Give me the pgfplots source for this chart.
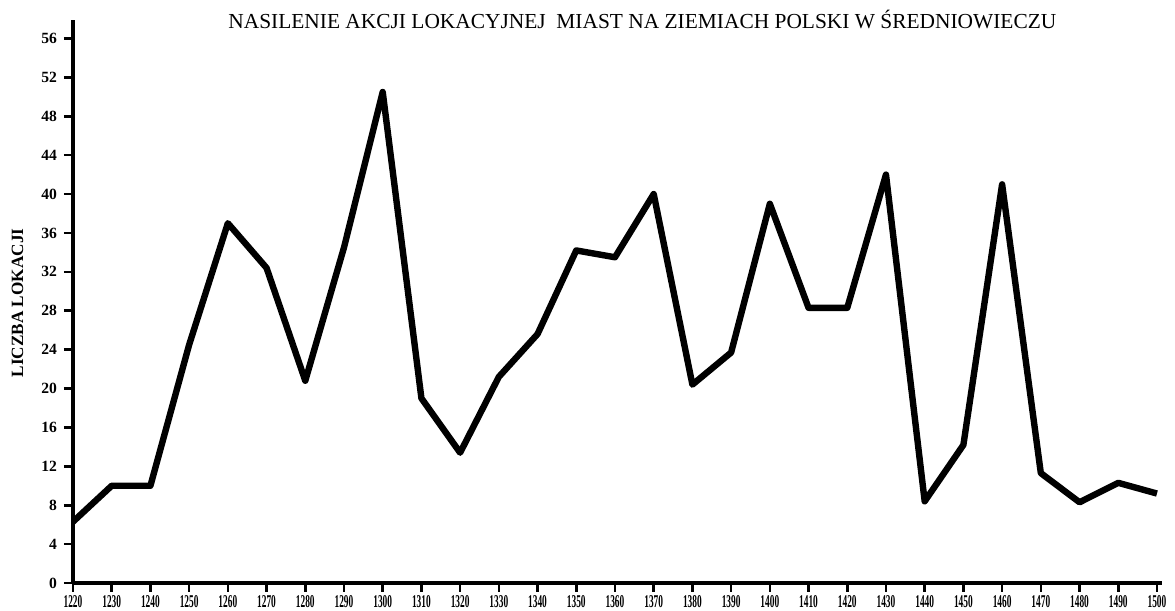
\documentclass[border=0pt]{standalone}
\usepackage{fontspec}
\setmainfont{Liberation Serif}
\usepackage{pgfplots}
\pgfplotsset{compat=1.18}
\begin{document}
\begin{tikzpicture}
\begin{axis}[
  scale only axis, width=544.5pt, height=281.5pt,
  xmin=1220, xmax=1501.3, ymin=0, ymax=57.9,
  axis lines=left, axis line style={-, line width=1.6pt, black},
  xtick={1220,1230,...,1500}, ytick={0,4,...,56},
  tick align=outside, major tick length=4.5pt,
  tick style={line width=1.3pt, black},
  /pgf/number format/assume math mode=true,
  yticklabel style={font=\fontsize{7.8}{9}\selectfont\bfseries},
  xticklabel style={font=\fontsize{9}{10}\selectfont\bfseries, inner sep=1.5pt},
  xticklabel={\scalebox{0.52}[1]{\pgfmathprintnumber[1000 sep={},fixed,precision=0]{\tick}}},
  yticklabel={\pgfmathprintnumber[fixed,precision=0]{\tick}},
]
\addplot[black, line width=3.2pt, line join=round] coordinates {
(1220,6.3) (1230,10) (1240,10) (1250,24.5) (1260,37) (1270,32.4)
(1280,20.8) (1290,34.5) (1300,50.5) (1310,19) (1320,13.4) (1330,21.2)
(1340,25.6) (1350,34.2) (1360,33.5) (1370,40) (1380,20.4) (1390,23.7)
(1400,39) (1410,28.3) (1420,28.3) (1430,42) (1440,8.4) (1450,14.2)
(1460,41) (1470,11.3) (1480,8.3) (1490,10.3) (1500,9.2)
};
\end{axis}
\node[anchor=base west, font=\fontsize{10.7}{12}\selectfont, inner sep=0pt] at (77.5pt,277pt)
  {NASILENIE AKCJI LOKACYJNEJ\ \ MIAST NA ZIEMIACH POLSKI W ŚREDNIOWIECZU};
\node[rotate=90, font=\fontsize{8.6}{10}\selectfont\bfseries, inner sep=0pt] at (-27.75pt,140pt)
  {LICZBA LOKACJI};
\path (-36.5pt,-13.5pt) rectangle (551pt,291.5pt);
\end{tikzpicture}
\end{document}
